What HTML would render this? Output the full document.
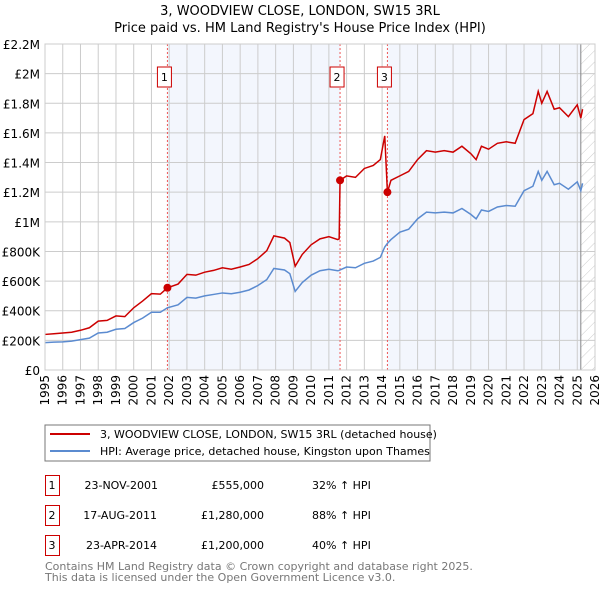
<!DOCTYPE html>
<html><head><meta charset="utf-8"><style>
body{margin:0;background:#fff;}
svg{display:block;font-family:"DejaVu Sans","Liberation Sans",sans-serif;}
</style></head><body>
<svg id="c" width="600" height="590" viewBox="0 0 600 590">
<text x="300" y="15" text-anchor="middle" font-size="13">3, WOODVIEW CLOSE, LONDON, SW15 3RL</text>
<text x="300" y="32" text-anchor="middle" font-size="13">Price paid vs. HM Land Registry's House Price Index (HPI)</text>
<g id="plot"></g>
<rect x="45" y="425" width="385" height="36" fill="#fff" stroke="#777"/>
<line x1="50" y1="434" x2="90" y2="434" stroke="#cc0000" stroke-width="2"/>
<text x="100" y="438" font-size="11">3, WOODVIEW CLOSE, LONDON, SW15 3RL (detached house)</text>
<line x1="50" y1="451" x2="90" y2="451" stroke="#5b8bd0" stroke-width="2"/>
<text x="100" y="455" font-size="11">HPI: Average price, detached house, Kingston upon Thames</text>
<g font-size="11">
<rect x="45.5" y="475.5" width="14" height="20" fill="none" stroke="#cc0000"/><text x="52" y="489" text-anchor="middle">1</text>
<text x="158" y="489" text-anchor="end">23-NOV-2001</text><text x="264" y="489" text-anchor="end">£555,000</text><text x="312" y="489">32% ↑ HPI</text>
<rect x="45.5" y="505.5" width="14" height="20" fill="none" stroke="#cc0000"/><text x="52" y="519" text-anchor="middle">2</text>
<text x="157" y="519" text-anchor="end">17-AUG-2011</text><text x="264" y="519" text-anchor="end">£1,280,000</text><text x="312" y="519">88% ↑ HPI</text>
<rect x="45.5" y="535.5" width="14" height="20" fill="none" stroke="#cc0000"/><text x="52" y="549" text-anchor="middle">3</text>
<text x="157" y="549" text-anchor="end">23-APR-2014</text><text x="264" y="549" text-anchor="end">£1,200,000</text><text x="312" y="549">40% ↑ HPI</text>
</g>
<text x="45" y="570" font-size="11" fill="#777">Contains HM Land Registry data © Crown copyright and database right 2025.</text>
<text x="45" y="581" font-size="11" fill="#777">This data is licensed under the Open Government Licence v3.0.</text>
</svg>
<script>
const years=[1995,1995.5,1996,1996.5,1997,1997.5,1998,1998.5,1999,1999.5,2000,2000.5,2001,2001.5,2001.9,2002.5,2003,2003.5,2004,2004.5,2005,2005.5,2006,2006.5,2007,2007.5,2007.9,2008.5,2008.8,2009.1,2009.5,2010,2010.5,2011,2011.5,2011.58,2011.63,2012,2012.5,2013,2013.5,2013.9,2014.15,2014.3,2014.5,2015,2015.5,2016,2016.5,2017,2017.5,2018,2018.5,2019,2019.3,2019.6,2020,2020.5,2021,2021.5,2022,2022.5,2022.8,2023,2023.3,2023.7,2024,2024.5,2025,2025.2,2025.3];
const hpiK=[185,188,190,195,205,215,250,255,275,280,320,350,390,390,420,440,490,485,500,510,520,515,525,540,570,610,685,675,650,530,590,640,670,680,670,672,675,695,690,720,735,760,830,855,880,930,950,1020,1065,1060,1065,1060,1090,1050,1020,1080,1070,1100,1110,1105,1210,1240,1340,1280,1340,1250,1260,1220,1270,1210,1260];
const propK=[240,245,250,255,268,285,330,335,365,360,420,465,515,512,555,580,645,640,660,672,690,680,695,712,752,805,905,890,860,700,780,845,885,900,880,885,1280,1310,1300,1360,1380,1420,1580,1200,1280,1310,1340,1420,1480,1470,1480,1470,1510,1460,1420,1510,1490,1530,1540,1530,1690,1730,1880,1800,1880,1760,1770,1710,1790,1700,1760];
const saleYears=[2001.9,2011.63,2014.3];
const saleK=[555,1280,1200];
const saleLabels=["1","2","3"];
const yTicks=[0,200,400,600,800,1000,1200,1400,1600,1800,2000,2200];
const yTickLabels=["£0","£200K","£400K","£600K","£800K","£1M","£1.2M","£1.4M","£1.6M","£1.8M","£2M","£2.2M"];
const xTicks=[1995,1996,1997,1998,1999,2000,2001,2002,2003,2004,2005,2006,2007,2008,2009,2010,2011,2012,2013,2014,2015,2016,2017,2018,2019,2020,2021,2022,2023,2024,2025,2026];

const L=45,R=595,T=44,B=370,x0=1995,x1=2026,yMax=2200;
const X=v=>L+(v-x0)/(x1-x0)*(R-L);
const Y=v=>B-v/yMax*(B-T);
const NS="http://www.w3.org/2000/svg";
const g=document.getElementById('plot');
function mk(tag,attrs,parent){const e=document.createElementNS(NS,tag);for(const k in attrs)e.setAttribute(k,attrs[k]);(parent||g).appendChild(e);return e;}

let e;
e=mk('rect',{x:X(saleYears[0]),y:T,width:X(saleYears[1])-X(saleYears[0]),height:B-T,fill:'#f3f6fd'});


e=mk('rect',{x:X(saleYears[2]),y:T,width:X(2025.2)-X(saleYears[2]),height:B-T,fill:'#f3f6fd'});


const defs=mk('defs',{});
const pat=mk('pattern',{id:'hatch',width:8,height:8,patternUnits:'userSpaceOnUse',patternTransform:'rotate(45)'},defs);
mk('line',{x1:0,y1:0,x2:0,y2:8,stroke:'#ccc','stroke-width':1},pat);
e=mk('rect',{x:X(2025.2),y:T,width:R-X(2025.2),height:B-T,fill:'url(#hatch)'});



xTicks.forEach((t,i)=>{
  mk('line',{x1:X(t),y1:T,x2:X(t),y2:B,stroke:'#ccc','stroke-width':1});
  const tx=mk('text',{x:0,y:0,'font-size':12,'text-anchor':'end',transform:`translate(${X(t)+4},${B+5}) rotate(-90)`});
  tx.textContent=t;
  
  
});
yTicks.forEach((t,i)=>{
  mk('line',{x1:L,y1:Y(t),x2:R,y2:Y(t),stroke:'#ccc','stroke-width':1});
  const tx=mk('text',{x:L-5,y:Y(t)+5,'font-size':12,'text-anchor':'end'});
  tx.textContent=yTickLabels[i];
  
  
});
e=mk('line',{x1:X(2025.2),y1:T,x2:X(2025.2),y2:B,stroke:'#888','stroke-width':1});



saleYears.forEach((s,i)=>{
  e=mk('line',{x1:X(s),y1:T,x2:X(s),y2:B,stroke:'#ee5555','stroke-width':1,'stroke-dasharray':'2,2'});
  
  
  e=mk('rect',{x:X(s)-10,y:67,width:14,height:20,fill:'#fff',stroke:'#cc0000'});
  
  
  e=mk('text',{x:X(s)-3,y:81,'font-size':11,'text-anchor':'middle'});
  e.textContent=saleLabels[i];
  
  
});

e=mk('polyline',{points:years.map((y,i)=>X(y)+','+Y(hpiK[i])).join(' '),fill:'none',stroke:'#5b8bd0','stroke-width':1.5});


e=mk('polyline',{points:years.map((y,i)=>X(y)+','+Y(propK[i])).join(' '),fill:'none',stroke:'#cc0000','stroke-width':1.5});


saleYears.forEach((s,i)=>{
  e=mk('circle',{cx:X(s),cy:Y(saleK[i]),r:4,fill:'#cc0000'});
  
  
});
e=mk('rect',{x:L,y:T,width:R-L,height:B-T,fill:'none',stroke:'#ccc'});


</script>
</body></html>
